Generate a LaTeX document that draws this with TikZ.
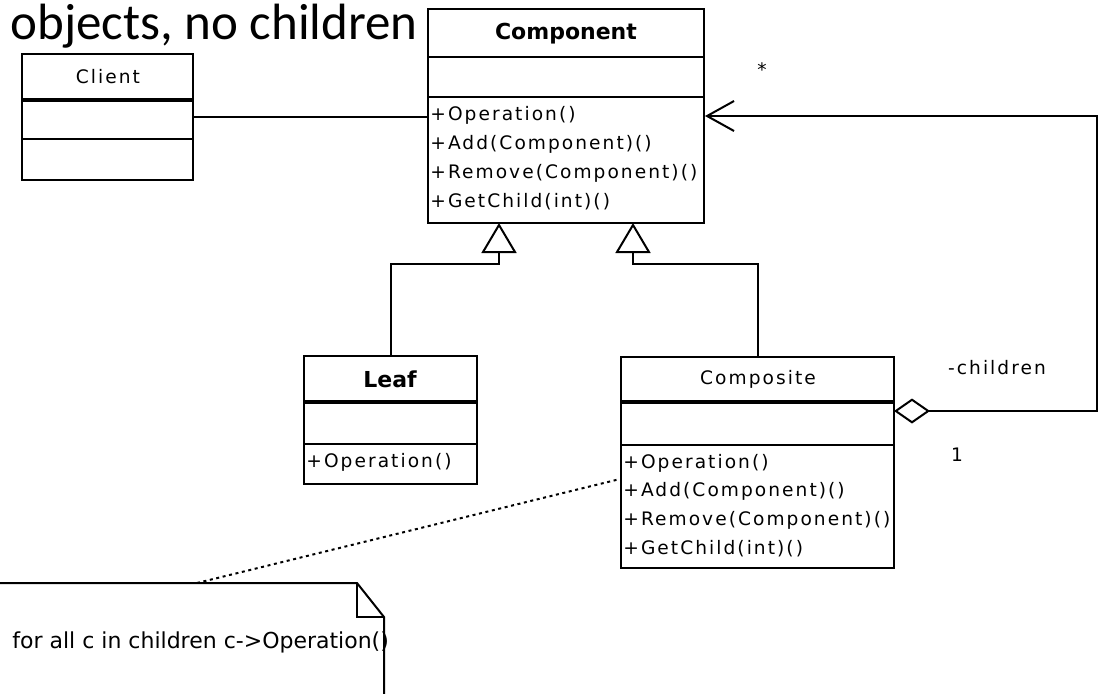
\documentclass[tikz,border=0pt]{standalone}
\usepackage{fontspec}
\usetikzlibrary{arrows.meta,fit}
\newfontfamily\umlfont{DejaVu Sans}[LetterSpace=11]
\newfontfamily\umlhead{DejaVu Sans}
\newfontfamily\slidefont{Carlito}

\begin{document}
\begin{tikzpicture}[x=.5pt,y=-.5pt,
  box/.style={draw, line width=1pt, inner sep=0pt},
  conn/.style={line width=1pt},
  thicksep/.style={line width=1.6pt},
  member/.style={anchor=west, inner sep=0pt, font=\umlfont\fontsize{9.3}{10}\selectfont},
  classname/.style={inner sep=0pt, font=\umlfont\fontsize{9.3}{10}\selectfont},
  classtitle/.style={inner sep=0pt, font=\umlhead\bfseries\fontsize{11}{12}\selectfont},
  gen/.style={conn, -{Triangle[open, length=15pt, width=17.5pt]}},
  notelink/.style={line width=1pt, dash pattern=on 1.5pt off 1.8pt}]

\useasboundingbox (0,0) rectangle (1099,693);
\fill[white] (0,0) rectangle (1099,693);
\clip (0,0) rectangle (1099,693);

% the slide text above the diagram
\node[anchor=base west, inner sep=0pt, font=\slidefont\fontsize{25.5}{30}\selectfont] (caption) at (10,39) {objects, no children};

% class boxes
\node[box, fit={(22,54) (193,180)}] (client) {};
\node[box, fit={(428,9) (704,223)}] (component) {};
\node[box, fit={(304,356) (477,484)}] (leaf) {};
\node[box, fit={(621,357) (894,568)}] (composite) {};

% compartments
\draw[thicksep] (22,100) -- (193,100);
\draw[conn] (22,139) -- (193,139);
\draw[conn] (428,57) -- (704,57);
\draw[conn] (428,97) -- (704,97);
\draw[thicksep] (304,402) -- (477,402);
\draw[conn] (304,444) -- (477,444);
\draw[thicksep] (621,402) -- (894,402);
\draw[conn] (621,445) -- (894,445);

% names
\node[classname] (clientname) at (108,77) {Client};
\node[classtitle] (componentname) at (566,34) {Component};
\node[classtitle] (leafname) at (390,379) {Leaf};
\node[classname] (compositename) at (758,379) {Composite};

% operations
\foreach \op [count=\i] in {Operation(),Add(Component)(),Remove(Component)(),GetChild(int)()}{
  \node[member] (compop\i) at (430,86+29*\i) {+\op};
  \node[member] (cmpop\i) at (623,434.5+28.5*\i) {+\op};
}
\node[member] (leafop) at (306,462) {+Operation()};

% associations
\draw[conn] (client.east) -- (client.east -| component.west);
\coordinate (agg) at (894,411);
\draw[conn, {Diamond[open, length=18pt, width=12.5pt]}-{Straight Barb[length=13.5pt, width=15pt]}] (agg) -- (1097,411) |- (component.east);
\node[classname] (star) at (762,70) {*};
\node[classname] (rolename) at (997,368) {-children};
\node[classname] (mult) at (957,455) {1};

% generalizations
\coordinate (leafgen) at (499,223);
\coordinate (compgen) at (633,223);
\draw[gen] (leaf.north) |- (499,264) -- (leafgen);
\draw[gen] (composite.north) |- (633,264) -- (compgen);

% note
\draw[conn] (-10,583) -- (357,583) -- (384,617) -- (384,710);
\draw[conn] (357,583) |- (384,617);
\node[anchor=west, inner sep=0pt, font=\umlhead\fontsize{11}{12}\selectfont] (note) at (12,642) {for all c in children c->Operation()};
\coordinate (notetop) at (197,583);
\draw[notelink] (notetop) -- (composite.west |- 0,479);

\end{tikzpicture}
\end{document}
